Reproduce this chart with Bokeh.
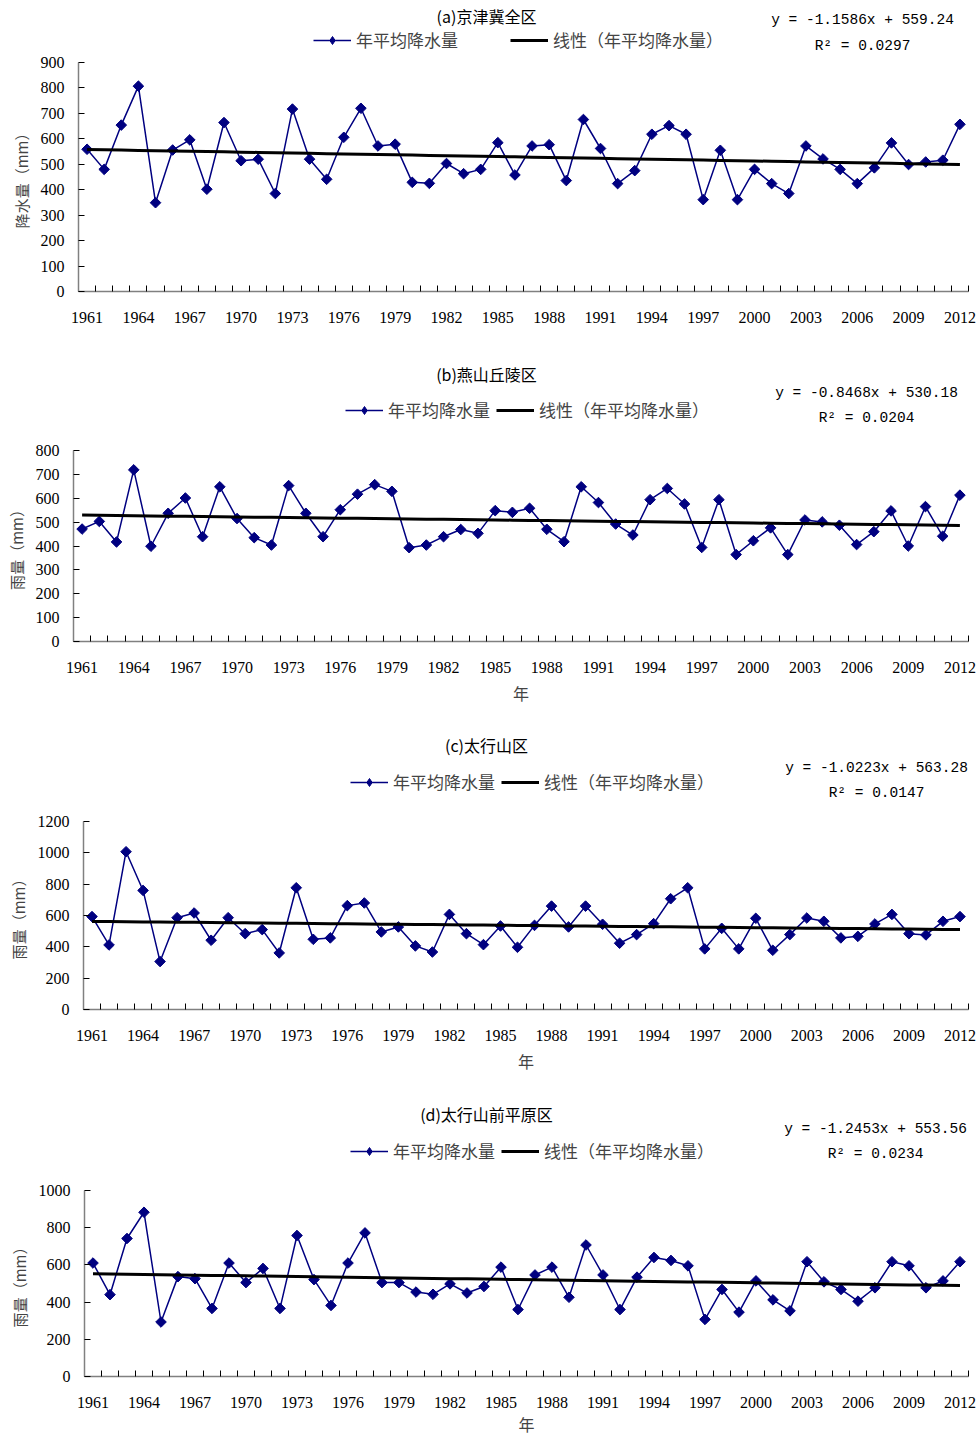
import numpy as np
from bokeh.plotting import figure
from bokeh.models import Range1d, FixedTicker, Label, Legend, LegendItem
from bokeh.embed import file_html
from bokeh.resources import INLINE

years = list(range(1961, 2013))

rain_a = [559, 480, 654, 807, 349, 556, 596, 402, 664, 514, 520, 385, 717, 520, 441, 606,
          720, 572, 579, 429, 425, 503, 463, 480, 585, 458, 572, 577, 436, 676, 562, 424,
          475, 618, 652, 618, 361, 555, 361, 480, 424, 385, 572, 521, 480, 424, 486, 584,
          499, 509, 516, 657]
rain_b = [471, 503, 417, 719, 399, 537, 601, 439, 648, 515, 435, 404, 653, 537, 439, 552,
          617, 657, 629, 393, 404, 439, 469, 453, 548, 541, 558, 470, 418, 648, 582, 492,
          446, 594, 641, 576, 394, 594, 364, 422, 476, 364, 509, 501, 487, 406, 460, 547,
          400, 565, 441, 613]
rain_c = [593, 412, 1007, 760, 306, 586, 616, 442, 586, 484, 510, 361, 777, 448, 457, 663,
          680, 495, 527, 406, 367, 607, 484, 414, 533, 397, 537, 660, 527, 660, 544, 423,
          478, 548, 707, 777, 387, 518, 387, 582, 378, 478, 584, 563, 457, 467, 546, 607,
          484, 476, 563, 593]
rain_d = [610, 440, 742, 883, 293, 537, 526, 366, 610, 505, 581, 366, 758, 521, 382, 610,
          772, 505, 505, 454, 442, 498, 449, 484, 588, 360, 546, 588, 426, 707, 546, 360,
          534, 640, 624, 595, 307, 468, 346, 514, 412, 353, 617, 509, 468, 405, 477, 617,
          595, 477, 514, 617]

series = [rain_a, rain_b, rain_c, rain_d]
titles = ["(a)京津冀全区", "(b)燕山丘陵区", "(c)太行山区", "(d)太行山前平原区"]
slopes = [-1.1586, -0.8468, -1.0223, -1.2453]
intercepts = [559.24, 530.18, 563.28, 553.56]
r2_values = ["0.0297", "0.0204", "0.0147", "0.0234"]
y_titles = ["降水量（mm）", "雨量（mm）", "雨量（mm）", "雨量（mm）"]
y_max = [900, 800, 1200, 1000]
y_step = [100, 100, 200, 200]
tick_years = list(range(1961, 2013, 3))
series_name = "年平均降水量"
trend_name = "线性（年平均降水量）"
x_title = "年"

# page layout in pixels (page origin top-left)
layout = [
    dict(htop=0, hh=52, mh=293, fl=78, ft=62, fb=291, title=(486, 15), legend=(313, 41),
         leg_sp=52, eq=(862, 19), r2=(862, 45), ystand=6, xlab=False, xstand=5),
    dict(htop=345, hh=87, mh=286, fl=73, ft=450, fb=641, title=(486, 373), legend=(345, 411),
         leg_sp=6, eq=(866, 392), r2=(866, 417), ystand=6, xlab=True, xstand=5),
    dict(htop=718, hh=85, mh=284, fl=83, ft=821, fb=1009, title=(486, 744), legend=(350, 783),
         leg_sp=6, eq=(876, 767), r2=(876, 792), ystand=6, xlab=True, xstand=5),
    dict(htop=1087, hh=83, mh=268, fl=84, ft=1190, fb=1377, title=(486, 1113), legend=(350, 1152),
         leg_sp=6, eq=(875, 1128), r2=(875, 1153), ystand=6, xlab=True, xstand=1),
]

FIG_W = 979
FRAME_RIGHT = 968
NUM_FONT = "Liberation Serif"
CJK_FONT = "Noto Sans CJK SC"
MONO_FONT = "Liberation Mono"
NAVY = "#000080"
AXIS_COLOR = "#808080"

roots = []
for i in range(4):
    L = layout[i]
    vals = series[i]

    # ---------- header (title, legend, regression equation) ----------
    H = L["hh"]
    top = L["htop"]
    hdr = figure(width=FIG_W, height=H, output_backend="svg", toolbar_location=None,
                 x_range=Range1d(0, FIG_W), y_range=Range1d(0, H),
                 x_axis_location=None, y_axis_location=None,
                 min_border_left=0, min_border_right=0, min_border_top=0, min_border_bottom=0)
    hdr.outline_line_color = None
    hdr.xgrid.visible = False
    hdr.ygrid.visible = False

    def hy(py):
        return H - (py - top)

    tx, ty = L["title"]
    hdr.add_layout(Label(x=tx, y=hy(ty), text=titles[i], text_align="center",
                         text_baseline="middle", text_font=CJK_FONT, text_font_size="16px",
                         text_color="black"))
    ex, ey = L["eq"]
    eq_text = f"y = {slopes[i]:.4f}x + {intercepts[i]:.2f}"
    hdr.add_layout(Label(x=ex, y=hy(ey), text=eq_text, text_align="center",
                         text_baseline="middle", text_font=MONO_FONT, text_font_size="14.5px",
                         text_color="black"))
    rx, ry = L["r2"]
    hdr.add_layout(Label(x=rx, y=hy(ry), text=f"R² = {r2_values[i]}", text_align="center",
                         text_baseline="middle", text_font=MONO_FONT, text_font_size="14.5px",
                         text_color="black"))

    # legend glyph proxies (same styling as the plotted series; NaN so nothing is drawn)
    nan = [float("nan")]
    g_line = hdr.line(x=nan, y=nan, line_color=NAVY, line_width=1.5)
    g_pts = hdr.scatter(x=nan, y=nan, marker="diamond", size=12,
                        fill_color=NAVY, line_color=NAVY)
    g_trend = hdr.line(x=nan, y=nan, line_color="black", line_width=3)
    lx, ly = L["legend"]
    legend = Legend(items=[LegendItem(label=series_name, renderers=[g_line, g_pts]),
                           LegendItem(label=trend_name, renderers=[g_trend])],
                    orientation="horizontal", location=(lx, hy(ly) - 11),
                    glyph_width=38, glyph_height=20, label_height=20, label_standoff=5,
                    spacing=L["leg_sp"], padding=0, margin=0, border_line_color=None,
                    background_fill_alpha=0, label_text_font=CJK_FONT,
                    label_text_font_size="17px", label_text_baseline="middle")
    hdr.add_layout(legend, "center")
    roots.append(hdr)

    # ---------- main chart ----------
    mtop = top + H
    p = figure(width=FIG_W, height=L["mh"], output_backend="svg", toolbar_location=None,
               x_range=Range1d(1960.5, 2012.5), y_range=Range1d(0, y_max[i]),
               min_border_left=L["fl"], min_border_right=FIG_W - FRAME_RIGHT,
               min_border_top=L["ft"] - mtop, min_border_bottom=mtop + L["mh"] - L["fb"])
    p.outline_line_color = None
    p.xgrid.visible = False
    p.ygrid.visible = False

    xa = p.xaxis[0]
    xa.ticker = FixedTicker(ticks=tick_years, minor_ticks=[y - 0.5 for y in years] + [2012.5])
    xa.major_tick_in = 0
    xa.major_tick_out = 0
    xa.minor_tick_in = 6
    xa.minor_tick_out = 0
    xa.minor_tick_line_color = "black"
    xa.axis_line_color = AXIS_COLOR
    xa.axis_line_width = 1.5
    xa.major_label_text_font = NUM_FONT
    xa.major_label_text_font_size = "16px"
    xa.major_label_text_color = "black"
    xa.major_label_standoff = 20
    if L["xlab"]:
        xa.axis_label = x_title
        xa.axis_label_text_font = CJK_FONT
        xa.axis_label_text_font_size = "16px"
        xa.axis_label_text_font_style = "normal"
        xa.axis_label_standoff = L["xstand"]

    ya = p.yaxis[0]
    ya.ticker = FixedTicker(ticks=list(range(0, y_max[i] + 1, y_step[i])))
    ya.major_tick_in = 6
    ya.major_tick_out = 0
    ya.minor_tick_line_color = None
    ya.major_tick_line_color = "black"
    ya.axis_line_color = AXIS_COLOR
    ya.axis_line_width = 1.5
    ya.major_label_text_font = NUM_FONT
    ya.major_label_text_font_size = "16px"
    ya.major_label_text_color = "black"
    ya.major_label_standoff = 14
    ya.axis_label = y_titles[i]
    ya.axis_label_text_font = CJK_FONT
    ya.axis_label_text_font_size = "15px"
    ya.axis_label_text_font_style = "normal"
    ya.axis_label_standoff = L["ystand"]

    p.line(years, vals, line_color=NAVY, line_width=1.5)
    p.scatter(years, vals, marker="square", angle=np.pi / 4, size=7.5,
              fill_color=NAVY, line_color=NAVY)
    idx = np.arange(1, len(years) + 1)
    trend = slopes[i] * idx + intercepts[i]
    p.line(years, trend, line_color="black", line_width=3)
    roots.append(p)

open("out.html", "w").write(file_html(roots, INLINE))
